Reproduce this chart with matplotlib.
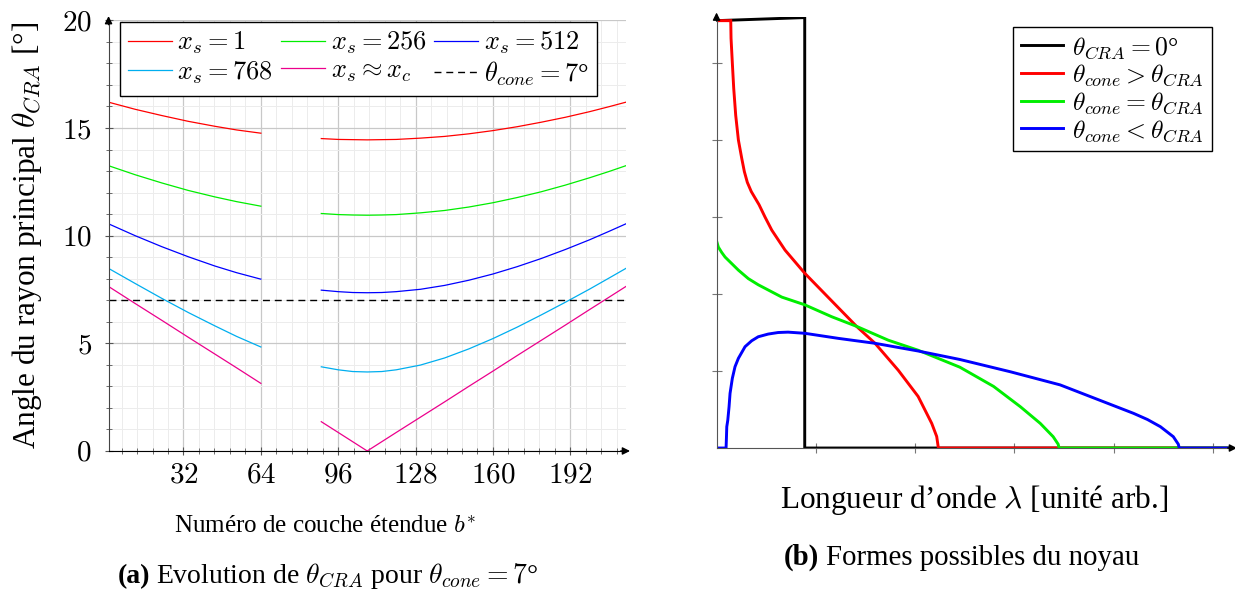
import numpy as np
import matplotlib
matplotlib.use("Agg")
import matplotlib.pyplot as plt
from matplotlib.ticker import MultipleLocator, FuncFormatter

plt.rcParams["font.family"] = "Liberation Serif"
plt.rcParams["mathtext.fontset"] = "cm"

# ---------- (a) theta_CRA en fonction de b* ----------
b_gauche = [1, 12, 23, 34, 45, 54, 64]
b_droite = [89, 96, 102, 108, 114, 120, 130, 140, 150, 160, 170, 180, 190, 200, 208, 215]

xs1_g = [16.20, 15.87, 15.58, 15.31, 15.08, 14.91, 14.76]
xs1_d = [14.51, 14.47, 14.46, 14.45, 14.46, 14.47, 14.53, 14.61, 14.73, 14.88,
         15.06, 15.27, 15.50, 15.76, 15.99, 16.20]
xs256_g = [13.25, 12.83, 12.45, 12.10, 11.80, 11.58, 11.37]
xs256_d = [11.03, 10.98, 10.96, 10.95, 10.96, 10.98, 11.06, 11.17, 11.33, 11.53,
           11.77, 12.04, 12.35, 12.69, 12.98, 13.25]
xs512_g = [10.55, 10.00, 9.49, 9.02, 8.59, 8.28, 7.98]
xs512_d = [7.47, 7.40, 7.36, 7.35, 7.36, 7.40, 7.51, 7.69, 7.93, 8.22,
           8.56, 8.94, 9.36, 9.81, 10.20, 10.55]
xs768_g = [8.48, 7.78, 7.09, 6.43, 5.81, 5.32, 4.83]
xs768_d = [3.91, 3.77, 3.69, 3.67, 3.69, 3.77, 3.99, 4.32, 4.74, 5.22,
           5.75, 6.32, 6.91, 7.52, 8.03, 8.48]
xsc_g = [7.64, 6.85, 6.07, 5.28, 4.50, 3.86, 3.14]
xsc_d = [1.36, 0.86, 0.43, 0.0, 0.43, 0.86, 1.57, 2.28, 3.00, 3.71,
         4.43, 5.14, 5.85, 6.57, 7.14, 7.64]
theta_cone = 7

series_a = [
    (xs1_g, xs1_d, "#ff0000", r"$x_s = 1$"),
    (xs256_g, xs256_d, "#00ee00", r"$x_s = 256$"),
    (xs512_g, xs512_d, "#0000ff", r"$x_s = 512$"),
    (xs768_g, xs768_d, "#00aeef", r"$x_s = 768$"),
    (xsc_g, xsc_d, "#ec008c", r"$x_s \approx x_c$"),
]

# ---------- (b) formes possibles du noyau (unites arbitraires) ----------
noir_x = [0, 0.888, 0.888, 5.2]
noir_y = [5.55, 5.59, 0, 0]
rouge_x = [0, 0.143, 0.146, 0.159, 0.173, 0.193, 0.22, 0.254, 0.28, 0.31, 0.35,
           0.428, 0.488, 0.556, 0.69, 0.888, 1.16, 1.41, 1.596, 1.83, 2.03,
           2.167, 2.217, 2.234, 5.2]
rouge_y = [5.55, 5.55, 5.32, 5.0, 4.67, 4.32, 4.0, 3.76, 3.59, 3.45, 3.33,
           3.16, 3.0, 2.83, 2.57, 2.27, 1.91, 1.58, 1.36, 1.01, 0.67,
           0.32, 0.15, 0, 0]
vert_x = [0, 0.018, 0.052, 0.086, 0.22, 0.32, 0.42, 0.657, 0.888, 1.16, 1.41,
          1.73, 2.03, 2.45, 2.79, 3.06, 3.26, 3.39, 3.44, 3.45, 5.2]
vert_y = [2.69, 2.61, 2.54, 2.48, 2.31, 2.20, 2.12, 1.96, 1.86, 1.705, 1.58,
          1.40, 1.27, 1.05, 0.80, 0.536, 0.32, 0.147, 0.05, 0, 0]
bleu_x = [0, 0.096, 0.10, 0.103, 0.113, 0.126, 0.136, 0.159, 0.186, 0.22, 0.287,
          0.354, 0.42, 0.52, 0.62, 0.72, 0.888, 1.227, 1.596, 2.03, 2.45, 2.96,
          3.46, 3.86, 4.20, 4.34, 4.47, 4.60, 4.65, 4.66, 5.2]
bleu_y = [0, 0, 0.15, 0.277, 0.36, 0.536, 0.71, 0.905, 1.056, 1.165, 1.316,
          1.393, 1.445, 1.48, 1.50, 1.505, 1.49, 1.424, 1.36, 1.26, 1.15, 0.99,
          0.82, 0.62, 0.45, 0.37, 0.277, 0.147, 0.05, 0, 0]

series_b = [
    (noir_x, noir_y, "k", r"$\theta_{CRA} = 0$°"),
    (rouge_x, rouge_y, "#ff0000", r"$\theta_{cone} > \theta_{CRA}$"),
    (vert_x, vert_y, "#00ee00", r"$\theta_{cone} = \theta_{CRA}$"),
    (bleu_x, bleu_y, "#0000ff", r"$\theta_{cone} < \theta_{CRA}$"),
]


def fleches(ax, couleur="k"):
    # axes avec fleche au bout (style pgfplots)
    kw = dict(arrowstyle="-|>", lw=1.0, color=couleur, shrinkA=0, shrinkB=0,
              mutation_scale=11)
    ax.annotate("", xy=(1.008, 0), xytext=(0.99, 0), xycoords="axes fraction",
                arrowprops=kw)
    ax.annotate("", xy=(0, 1.01), xytext=(0, 0.99), xycoords="axes fraction",
                arrowprops=kw)


fig = plt.figure(figsize=(12.35, 5.92), dpi=100)

# ----- panneau (a) -----
ax1 = fig.add_axes([0.0879, 0.2382, 0.4189, 0.7274])
handles = []
for g, d, c, lab in series_a:
    h, = ax1.plot(b_gauche, g, color=c, lw=0.9, label=lab)
    ax1.plot(b_droite, d, color=c, lw=0.9)
    handles.append(h)
h_cone = ax1.axhline(theta_cone, color="k", lw=1.0, ls=(0, (5, 3.5)),
                     label=r"$\theta_{cone} = 7$°")
handles.append(h_cone)

ax1.set_xlim(1, 215)
ax1.set_ylim(0, 20)
ax1.xaxis.set_major_locator(MultipleLocator(32))
ax1.xaxis.set_minor_locator(MultipleLocator(6.4))
ax1.yaxis.set_major_locator(MultipleLocator(5))
ax1.yaxis.set_minor_locator(MultipleLocator(1))
fmt = FuncFormatter(lambda v, p: f"${v:g}$")
ax1.xaxis.set_major_formatter(fmt)
ax1.yaxis.set_major_formatter(fmt)
ax1.grid(which="major", color="#c8c8c8", lw=0.9)
ax1.grid(which="minor", color="#ececec", lw=0.7)
ax1.set_axisbelow(True)
for s in ["top", "right"]:
    ax1.spines[s].set_visible(False)
ax1.spines["left"].set_color("#444444")
ax1.spines["bottom"].set_color("k")
ax1.tick_params(which="both", direction="inout", color="#555555", labelsize=21)
ax1.tick_params(which="major", length=6)
ax1.tick_params(axis="y", which="major", pad=9)
ax1.tick_params(axis="x", which="major", pad=5)
ax1.tick_params(which="minor", length=5)
fleches(ax1)

ordre = [0, 3, 1, 4, 2, 5]
leg1 = ax1.legend([handles[i] for i in ordre], [handles[i].get_label() for i in ordre],
                  ncol=3, loc="upper left", bbox_to_anchor=(0.022, 0.996),
                  fontsize=19, fancybox=False, edgecolor="k", framealpha=1,
                  borderaxespad=0, handlelength=1.68, handletextpad=0.2,
                  columnspacing=0.3, borderpad=0.3, labelspacing=0.1)
leg1.get_frame().set_linewidth(1.0)

# ----- panneau (b) -----
ax2 = fig.add_axes([0.5802, 0.2432, 0.4181, 0.7284])
for x, y, c, lab in series_b:
    ax2.plot(x, y, color=c, lw=2.1, label=lab, solid_joinstyle="miter")
ax2.set_xlim(0, 5.2)
ax2.set_ylim(0, 5.6)
ax2.set_xticks([1, 2, 3, 4, 5])
ax2.set_yticks([1, 2, 3, 4, 5])
ax2.set_xticklabels([])
ax2.set_yticklabels([])
for s in ["top", "right"]:
    ax2.spines[s].set_visible(False)
for s in ["left", "bottom"]:
    ax2.spines[s].set_color("#555555")
ax2.tick_params(direction="inout", color="#777777", length=7)
fleches(ax2)

leg2 = ax2.legend(loc="upper right", bbox_to_anchor=(0.9595, 0.976), fontsize=18.5,
                  fancybox=False, edgecolor="k", framealpha=1, borderaxespad=0,
                  handlelength=1.65, handletextpad=0.37, labelspacing=0.08,
                  borderpad=0.3)
leg2.get_frame().set_linewidth(1.0)

# ----- textes -----
fig.text(0.0219, 0.603, r"Angle du rayon principal $\theta_{CRA}$ [°]", rotation=90,
         ha="center", va="center", fontsize=22.5)
fig.text(0.263, 0.0997, r"Numéro de couche étendue $b^{*}$", ha="center",
         va="baseline", fontsize=18)
fig.text(150 / 1235, 0.0152, "(a)", ha="right", va="baseline",
         fontsize=20, weight="bold")
fig.text(156 / 1235, 0.0152, r"Evolution de $\theta_{CRA}$ pour $\theta_{cone} = 7$°",
         ha="left", va="baseline", fontsize=20)
fig.text(0.789, 0.1419, r"Longueur d’onde $\lambda$ [unité arb.]", ha="center",
         va="baseline", fontsize=22.5)
fig.text(819 / 1235, 0.0456, "(b)", ha="right", va="baseline", fontsize=20.8,
         weight="bold")
fig.text(826 / 1235, 0.0456, "Formes possibles du noyau", ha="left", va="baseline",
         fontsize=20.8)

fig.savefig("out.png", dpi=100)
